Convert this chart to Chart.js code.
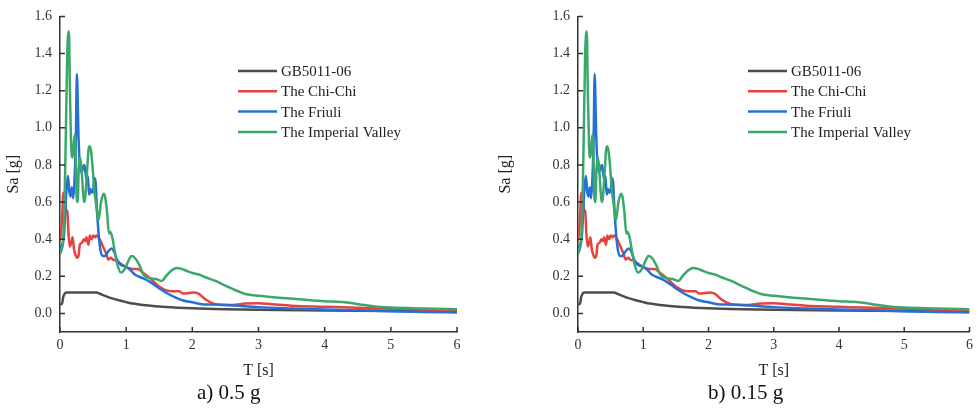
<!DOCTYPE html>
<html lang="en">
<head>
<meta charset="UTF-8">
<title>Sa - T spectra</title>
<script src="https://cdn.jsdelivr.net/npm/chart.js"></script>
<style>
  body { margin: 0; background: #fff; }
  #wrap { position: relative; width: 978px; height: 409px; overflow: hidden; }
  .panel { position: absolute; top: 0; width: 489px; height: 390px; }
  .cap { position: absolute; top: 380px; font: 21px 'Times New Roman', 'Liberation Serif', serif; color: #111; white-space: nowrap; }
</style>
</head>
<body>
<div id="wrap">
  <div class="panel" style="left:0"><canvas id="chartA" width="489" height="390"></canvas></div>
  <div class="panel" style="left:489px"><canvas id="chartB" width="489" height="390"></canvas></div>
  <div class="cap" style="left:197px">a) 0.5 g</div>
  <div class="cap" style="left:708px">b) 0.15 g</div>
</div>
<script>
// data
const seriesNames = ['GB5011-06', 'The Chi-Chi', 'The Friuli', 'The Imperial Valley'];
const seriesColors = ['#4d4d4d', '#e8423f', '#2470d8', '#3aa86b'];

const gbT  = [0, 0.03, 0.05, 0.1, 0.55, 0.6, 0.7, 0.8, 0.9, 1.0, 1.1, 1.3, 1.6, 2.0, 2.5, 3.0, 4.0, 5.0, 6.0];
const gbSa = [0.048, 0.052, 0.09, 0.113, 0.113, 0.106, 0.092, 0.08, 0.07, 0.061, 0.053, 0.044, 0.035, 0.028, 0.023, 0.02, 0.016, 0.013, 0.011];

const chiT  = [0, 0.03, 0.05, 0.07, 0.09, 0.11, 0.13, 0.15, 0.17, 0.19, 0.21, 0.23, 0.26, 0.28, 0.3, 0.33, 0.36, 0.38, 0.4, 0.43, 0.45, 0.48, 0.5, 0.53, 0.55, 0.6, 0.65, 0.7, 0.73, 0.77, 0.8, 0.85, 0.91, 1.0, 1.1, 1.18, 1.25, 1.36, 1.5, 1.6, 1.7, 1.8, 1.86, 1.95, 2.03, 2.1, 2.2, 2.34, 2.45, 2.6, 2.8, 3.0, 3.2, 3.5, 4.0, 4.5, 5.0, 5.5, 6.0];
const chiSa = [0.39, 0.5, 0.65, 0.64, 0.56, 0.55, 0.42, 0.36, 0.38, 0.41, 0.35, 0.32, 0.3, 0.31, 0.37, 0.38, 0.4, 0.39, 0.41, 0.37, 0.42, 0.4, 0.42, 0.41, 0.42, 0.4, 0.36, 0.32, 0.29, 0.3, 0.29, 0.285, 0.27, 0.25, 0.24, 0.24, 0.22, 0.19, 0.145, 0.125, 0.12, 0.12, 0.107, 0.11, 0.113, 0.105, 0.075, 0.05, 0.046, 0.046, 0.053, 0.055, 0.05, 0.042, 0.036, 0.03, 0.025, 0.02, 0.016];

const friT  = [0, 0.03, 0.06, 0.08, 0.1, 0.12, 0.14, 0.16, 0.18, 0.2, 0.22, 0.24, 0.255, 0.28, 0.3, 0.33, 0.35, 0.37, 0.4, 0.42, 0.44, 0.46, 0.48, 0.5, 0.52, 0.54, 0.56, 0.6, 0.64, 0.68, 0.72, 0.78, 0.82, 0.86, 0.91, 1.0, 1.06, 1.13, 1.25, 1.36, 1.5, 1.61, 1.75, 1.86, 2.0, 2.14, 2.3, 2.57, 3.0, 3.5, 4.0, 4.5, 5.0, 5.5, 6.0];
const friSa = [0.35, 0.37, 0.42, 0.55, 0.68, 0.74, 0.66, 0.63, 0.68, 0.62, 0.72, 0.95, 1.29, 0.95, 0.8, 0.76, 0.79, 0.8, 0.72, 0.74, 0.64, 0.67, 0.65, 0.66, 0.73, 0.7, 0.55, 0.37, 0.31, 0.31, 0.33, 0.35, 0.33, 0.29, 0.265, 0.25, 0.235, 0.21, 0.19, 0.17, 0.135, 0.11, 0.085, 0.07, 0.06, 0.05, 0.048, 0.044, 0.034, 0.027, 0.021, 0.017, 0.012, 0.008, 0.005];

const impT  = [0, 0.03, 0.05, 0.07, 0.09, 0.11, 0.135, 0.15, 0.17, 0.19, 0.21, 0.225, 0.24, 0.25, 0.27, 0.28, 0.3, 0.32, 0.34, 0.36, 0.38, 0.41, 0.43, 0.45, 0.47, 0.49, 0.52, 0.55, 0.58, 0.62, 0.66, 0.68, 0.71, 0.74, 0.76, 0.79, 0.83, 0.87, 0.92, 0.98, 1.03, 1.08, 1.13, 1.2, 1.26, 1.36, 1.45, 1.54, 1.6, 1.68, 1.76, 1.84, 1.91, 2.0, 2.1, 2.2, 2.35, 2.5, 2.65, 2.8, 3.0, 3.3, 3.6, 4.0, 4.3, 4.6, 4.8, 5.0, 5.5, 6.0];
const impSa = [0.32, 0.35, 0.4, 0.62, 1.0, 1.4, 1.52, 1.2, 0.9, 0.84, 0.92, 0.965, 0.8, 0.64, 0.6, 0.75, 0.84, 0.8, 0.7, 0.6, 0.62, 0.77, 0.88, 0.9, 0.87, 0.8, 0.66, 0.58, 0.5, 0.6, 0.645, 0.63, 0.55, 0.43, 0.44, 0.41, 0.33, 0.26, 0.22, 0.24, 0.28, 0.31, 0.3, 0.26, 0.21, 0.19, 0.185, 0.175, 0.2, 0.23, 0.245, 0.24, 0.23, 0.218, 0.21, 0.195, 0.175, 0.15, 0.125, 0.105, 0.095, 0.085, 0.077, 0.066, 0.06, 0.045, 0.036, 0.032, 0.027, 0.022];

const xTicks = [0, 1, 2, 3, 4, 5, 6];
const yTicks = [0, 0.2, 0.4, 0.6, 0.8, 1.0, 1.2, 1.4, 1.6];
const yTickLabels = ['0.0', '0.2', '0.4', '0.6', '0.8', '1.0', '1.2', '1.4', '1.6'];

const allT = [gbT, chiT, friT, impT];
const allSa = [gbSa, chiSa, friSa, impSa];

const serif = "'Times New Roman', 'Liberation Serif', serif";
const ink = '#333';

function pts(t, s) {
  return t.map((v, i) => ({ x: v, y: s[i] }));
}

// inward tick marks on both axes
const innerTicks = {
  id: 'innerTicks',
  afterDraw(chart) {
    const ctx = chart.ctx;
    const xs = chart.scales.x, ys = chart.scales.y;
    const a = chart.chartArea;
    ctx.save();
    ctx.strokeStyle = ink;
    ctx.lineWidth = 1.5;
    ctx.beginPath();
    xTicks.forEach(v => {
      const px = xs.getPixelForValue(v);
      ctx.moveTo(px, a.bottom);
      ctx.lineTo(px, a.bottom - 5);
    });
    yTicks.forEach(v => {
      const py = ys.getPixelForValue(v);
      ctx.moveTo(a.left, py);
      ctx.lineTo(a.left + 5, py);
    });
    ctx.stroke();
    ctx.restore();
  }
};

// legend drawn inside the plot
const boxLegend = {
  id: 'boxLegend',
  afterDatasetsDraw(chart, args, opts) {
    const ctx = chart.ctx;
    ctx.save();
    ctx.font = '15px ' + serif;
    ctx.textBaseline = 'middle';
    chart.data.datasets.forEach((ds, i) => {
      const y = opts.y + i * 20.3;
      ctx.strokeStyle = ds.borderColor;
      ctx.lineWidth = 2.5;
      ctx.beginPath();
      ctx.moveTo(opts.x, y);
      ctx.lineTo(opts.x + 39, y);
      ctx.stroke();
      ctx.fillStyle = '#222';
      ctx.fillText(ds.label, opts.x + 43, y + 1);
    });
    ctx.restore();
  }
};

function makeChart(id, yWidth, padRight, titlePad, legX) {
  return new Chart(document.getElementById(id), {
    type: 'line',
    data: {
      datasets: seriesNames.map((n, i) => ({
        label: n,
        data: pts(allT[i], allSa[i]),
        borderColor: seriesColors[i],
        borderWidth: 2.5,
        pointRadius: 0,
        cubicInterpolationMode: 'monotone',
        order: -i,
        fill: false
      }))
    },
    options: {
      responsive: false,
      animation: false,
      layout: { padding: { left: 0, right: padRight, top: 12, bottom: 0 } },
      plugins: {
        legend: { display: false },
        tooltip: { enabled: false },
        boxLegend: { x: legX, y: 71 }
      },
      scales: {
        x: {
          type: 'linear',
          min: 0, max: 6,
          afterBuildTicks: s => { s.ticks = xTicks.map(v => ({ value: v })); },
          afterFit: s => { s.height = 58; },
          grid: { display: false, drawTicks: false },
          border: { display: true, color: ink, width: 1.5 },
          ticks: { padding: 5, color: ink, font: { family: serif, size: 14 } },
          title: { display: true, text: 'T [s]', color: '#222', font: { family: serif, size: 16 }, padding: { top: 0, bottom: 10 } }
        },
        y: {
          type: 'linear',
          min: -0.1, max: 1.6,
          afterBuildTicks: s => { s.ticks = yTicks.map(v => ({ value: v })); },
          afterFit: s => { s.width = yWidth; },
          grid: { display: false, drawTicks: false },
          border: { display: true, color: ink, width: 1.5 },
          ticks: {
            padding: 8, color: ink, font: { family: serif, size: 14 },
            callback: v => { const k = yTicks.indexOf(v); return k >= 0 ? yTickLabels[k] : ''; }
          },
          title: { display: true, text: 'Sa [g]', color: '#222', font: { family: serif, size: 16 }, padding: { top: titlePad, bottom: 0 } }
        }
      }
    },
    plugins: [innerTicks, boxLegend]
  });
}

makeChart('chartA', 60, 32, 4, 238);
makeChart('chartB', 89, 5, 7, 259);
</script>
</body>
</html>
